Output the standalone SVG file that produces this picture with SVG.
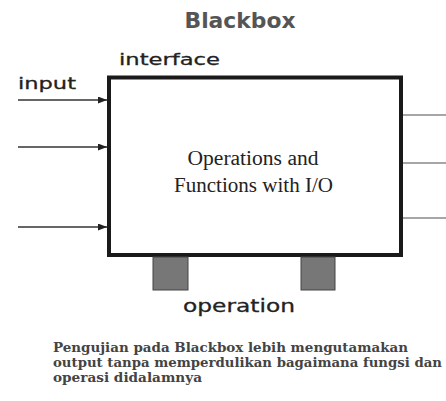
<svg xmlns="http://www.w3.org/2000/svg" width="446" height="401" viewBox="0 0 446 401">
<style>
.lbl{font-family:"DejaVu Sans","Liberation Sans",sans-serif;fill:#222;stroke:#222;stroke-width:0.3}
.ser{font-family:"Liberation Serif","DejaVu Serif",serif;fill:#222}
.note{font-family:"DejaVu Serif","Liberation Serif",serif;font-weight:bold;fill:#444;font-size:13px}
.in{stroke:#333;stroke-width:1.5;fill:none}
.out{stroke:#888;stroke-width:1.5;fill:none}
.op{fill:#777;stroke:#444;stroke-width:1}
</style>
<defs>
<marker id="ah" markerWidth="9" markerHeight="7" refX="9" refY="3.5" orient="auto" markerUnits="userSpaceOnUse">
<path d="M0,0 L9,3.5 L0,7 Z" fill="#222"/>
</marker>
</defs>
<rect width="446" height="401" fill="#fff"/>
<text x="240" y="28" text-anchor="middle" font-family="DejaVu Sans,sans-serif" font-weight="bold" font-size="21" fill="#555" textLength="111" lengthAdjust="spacingAndGlyphs">Blackbox</text>
<g id="connectors">
<line class="in" x1="18" y1="100" x2="107" y2="100" marker-end="url(#ah)"/>
<line class="in" x1="18" y1="147" x2="107" y2="147" marker-end="url(#ah)"/>
<line class="in" x1="18" y1="227" x2="107" y2="227" marker-end="url(#ah)"/>
<line class="out" x1="403" y1="115" x2="446" y2="115"/>
<line class="out" x1="403" y1="163" x2="446" y2="163"/>
<line class="out" x1="403" y1="218" x2="446" y2="218"/>
</g>
<g id="blackbox">
<rect x="109" y="77.5" width="292" height="177.5" fill="#fff" stroke="#1a1a1a" stroke-width="4"/>
<text class="ser" x="253" y="165" text-anchor="middle" font-size="20" textLength="131" lengthAdjust="spacingAndGlyphs">Operations and</text>
<text class="ser" x="253.5" y="192" text-anchor="middle" font-size="20" textLength="159" lengthAdjust="spacingAndGlyphs">Functions with I/O</text>
</g>
<g id="interface">
<text class="lbl" x="119" y="65" font-size="16" textLength="101" lengthAdjust="spacingAndGlyphs">interface</text>
</g>
<g id="input">
<text class="lbl" x="18" y="89" font-size="16" textLength="58" lengthAdjust="spacingAndGlyphs">input</text>
</g>
<g id="operation">
<rect class="op" x="153" y="257" width="35" height="33"/>
<rect class="op" x="301" y="257" width="34" height="33"/>
<text class="lbl" x="239" y="312" text-anchor="middle" font-size="17" textLength="112" lengthAdjust="spacingAndGlyphs">operation</text>
</g>
<g id="note">
<text class="note" x="53" y="352" textLength="355" lengthAdjust="spacingAndGlyphs">Pengujian pada Blackbox lebih mengutamakan</text>
<text class="note" x="53" y="367" textLength="389" lengthAdjust="spacingAndGlyphs">output tanpa memperdulikan bagaimana fungsi dan</text>
<text class="note" x="53" y="382" textLength="149" lengthAdjust="spacingAndGlyphs">operasi didalamnya</text>
</g>
</svg>
